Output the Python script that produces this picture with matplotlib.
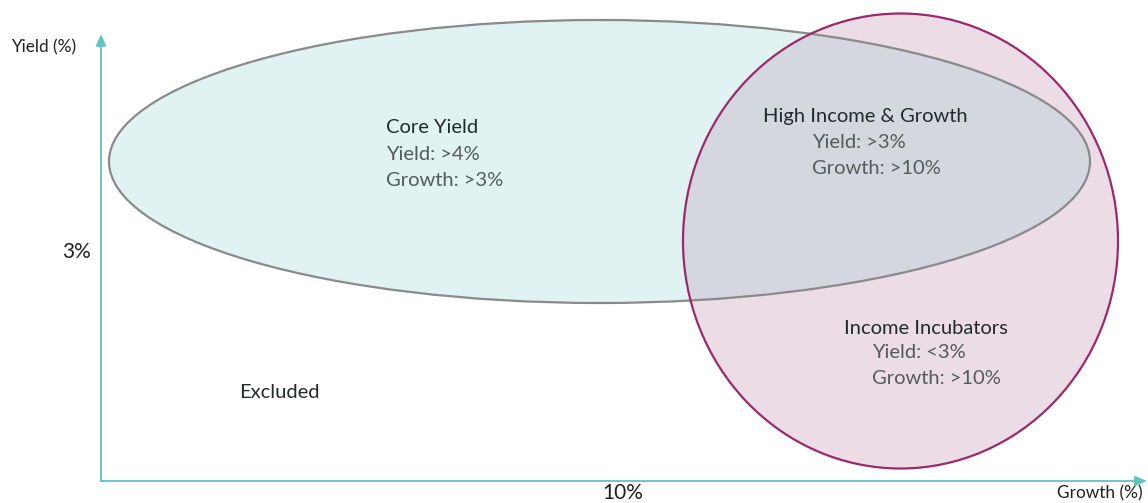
import matplotlib
matplotlib.use("Agg")
import matplotlib.pyplot as plt
from matplotlib.patches import Ellipse, FancyArrowPatch

# segments and the rules that define them
segments = ["Core Yield", "High Income & Growth", "Income Incubators", "Excluded"]
yield_rules = ["Yield: >4%", "Yield: >3%", "Yield: <3%", None]
growth_rules = ["Growth: >3%", "Growth: >10%", "Growth: >10%", None]
axis_titles = ["Growth (%)", "Yield (%)"]
threshold_labels = ["10%", "3%"]

AXIS = "#5fc4c0"
TEAL_FILL = "#e0f2f2"
PINK_FILL = "#ecdce6"
OVERLAP = "#d4d7e0"

plt.rcParams["font.family"] = ["Lato", "DejaVu Sans"]

fig = plt.figure(figsize=(11.48, 5.03), dpi=100)
ax = fig.add_axes([0, 0, 1, 1])
ax.set_xlim(0, 1148)
ax.set_ylim(503, 0)
ax.axis("off")

# pixel layout
core = Ellipse((599.5, 161.5), 981, 283, facecolor=TEAL_FILL, edgecolor="none", zorder=1)
incub = Ellipse((900.5, 241), 435, 455, facecolor=PINK_FILL, edgecolor="none", zorder=1)
ax.add_patch(core)
ax.add_patch(incub)
both = Ellipse((900.5, 241), 435, 455, facecolor=OVERLAP, edgecolor="none", zorder=2)
ax.add_patch(both)
both.set_clip_path(core)
ax.add_patch(Ellipse((599.5, 161.5), 981, 283, facecolor="none",
                     edgecolor="#8a8a8a", lw=1.6, zorder=3))
ax.add_patch(Ellipse((900.5, 241), 435, 455, facecolor="none",
                     edgecolor="#9b2a6a", lw=1.6, zorder=4))

# axes with arrow heads
for start, end in [((101, 481), (101, 34)), ((101, 481), (1147, 481))]:
    ax.add_patch(FancyArrowPatch(start, end, arrowstyle="-|>,head_length=7,head_width=3",
                                 color=AXIS, lw=1.3, mutation_scale=1, zorder=5,
                                 shrinkA=0, shrinkB=0))

ax.text(1143, 493, axis_titles[0], fontsize=12.4, color="#222222", ha="right", va="center")
ax.text(11, 47, axis_titles[1], fontsize=12.4, color="#222222", ha="left", va="center")
ax.text(623, 493, threshold_labels[0], fontsize=15, color="#222222", ha="center", va="center")
ax.text(91, 252, threshold_labels[1], fontsize=15, color="#222222", ha="right", va="center")

# segment labels
title_pos = [(386, 127), (763, 116), (844, 328), (239, 392)]
rule_pos = [(386, 154), (812, 142), (872, 353)]
for i, name in enumerate(segments):
    x, y = title_pos[i]
    ax.text(x, y, name, fontsize=14.5, color="#222a2a", ha="left", va="center")
    if yield_rules[i] is None:
        continue
    rx, ry = rule_pos[i]
    ax.text(rx, ry, yield_rules[i], fontsize=14.5, color="#555a5b", ha="left", va="center")
    ax.text(rx, ry + 26, growth_rules[i], fontsize=14.5, color="#555a5b", ha="left", va="center")

fig.savefig("out.png", dpi=100, facecolor="white")
